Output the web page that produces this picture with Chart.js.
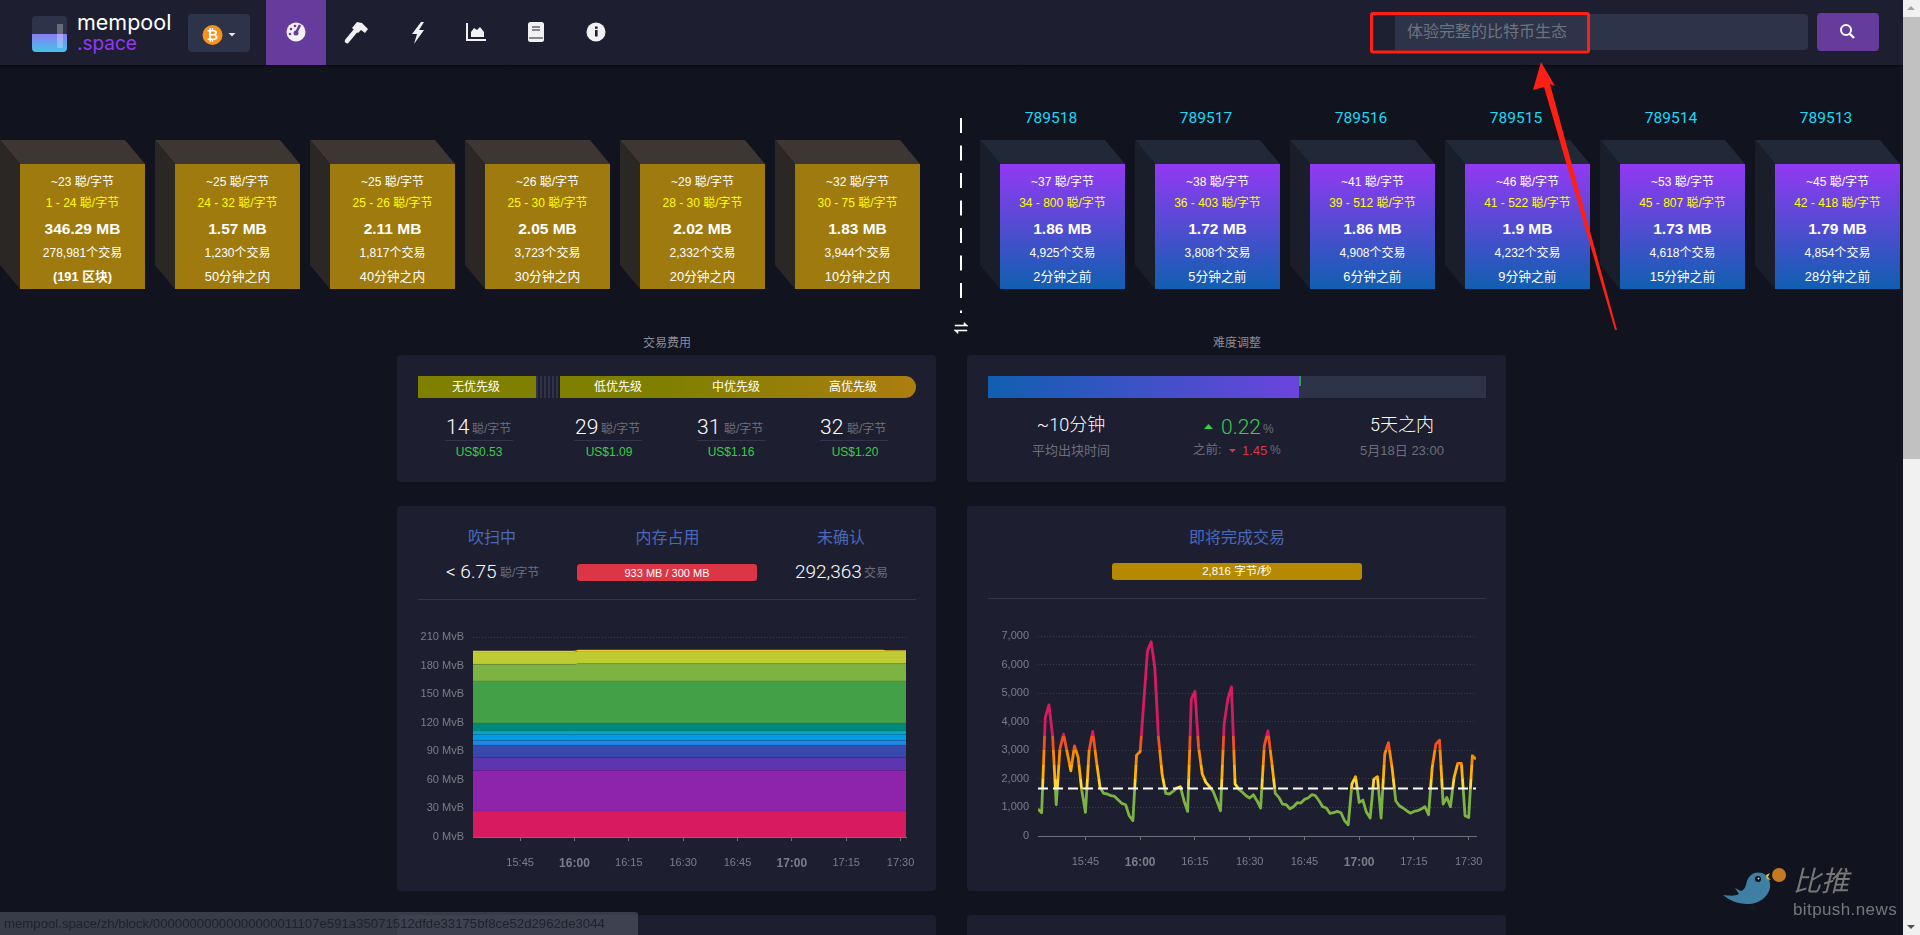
<!DOCTYPE html>
<html>
<head>
<meta charset="utf-8">
<title>mempool</title>
<script src="https://cdn.jsdelivr.net/npm/chart.js@4"></script>
<style>
html, body { margin: 0; width: 1920px; height: 935px; overflow: hidden; background: #11131f; }
body { position: relative; font-family: "Liberation Sans", "Noto Sans CJK SC", sans-serif; }
.box { position: absolute; }
.txt { position: absolute; white-space: nowrap; line-height: 1; }
canvas { position: absolute; }
</style>
</head>
<body>
<script>
// chart values
var memTimes = [932, 960, 961, 990, 1020, 1045, 1046, 1051.5];
var memColors = ['#d81b60', '#8e24aa', '#5e35b1', '#3949ab', '#1e88e5', '#039be5', '#00acc1', '#00897b', '#43a047', '#7cb342', '#c0ca33', '#fdd835'];
var band1 = [27.3, 27.3, 27.3, 27.3, 27.3, 27.3, 27.3, 27.3];
var band2 = [42.7, 42.7, 42.7, 42.7, 42.7, 42.7, 42.7, 42.7];
var band3 = [13.7, 13.7, 13.7, 13.7, 13.7, 13.7, 13.7, 13.7];
var band4 = [12.9, 12.9, 12.9, 12.9, 12.9, 12.9, 12.9, 12.9];
var band5 = [4.9, 4.9, 4.9, 4.9, 4.9, 4.9, 4.9, 4.9];
var band6 = [6.3, 6.3, 6.3, 6.3, 6.3, 6.3, 6.3, 6.3];
var band7 = [3.5, 3.5, 3.5, 3.5, 3.5, 3.5, 3.5, 3.5];
var band8 = [8.4, 8.4, 8.4, 8.4, 8.4, 8.4, 8.4, 8.4];
var band9 = [44.1, 44.1, 44.1, 44.1, 44.1, 44.1, 44.1, 44.1];
var band10 = [17.5, 17.5, 18.2, 18.2, 18.2, 18.2, 18.2, 18.2];
var band11 = [12.95, 12.95, 13.3, 13.3, 13.3, 13.3, 13.3, 13.3];
var band12 = [1.35, 1.35, 1.4, 1.4, 1.4, 1.4, 0.9, 0.9];
var memBands = [band1, band2, band3, band4, band5, band6, band7, band8, band9, band10, band11, band12];

var feeStart = 932;
var feeValues = [944, 815, 4150, 4590, 3500, 1095, 3040, 3565, 2920, 2283,
  3157, 2750, 1584, 830, 2980, 3660, 2630, 1700, 1490, 1470,
  1410, 1386, 1258, 1140, 1095, 710, 535, 2830, 2960, 4730,
  6480, 6800, 5900, 3450, 2170, 1490, 1470, 1560, 1680, 1725,
  1235, 860, 4790, 5060, 3100, 2170, 1875, 1725, 1560, 1235,
  885, 3915, 4790, 5220, 1820, 1640, 1530, 1410, 1330, 1445,
  1235, 980, 3157, 3680, 2630, 1490, 1350, 1118, 1095, 955,
  1025, 1165, 1153, 1280, 1330, 1445, 1410, 1235, 1025, 980,
  790, 815, 860, 815, 535, 395, 1820, 2075, 1175, 1258,
  830, 630, 1990, 2075, 630, 2870, 3270, 2400, 1235, 1060,
  980, 885, 800, 860, 885, 944, 1025, 745, 2400, 3215,
  3355, 1118, 1350, 1025, 2050, 2540, 2540, 710, 650, 2810, 2690];
var feeLimit = 1660;
var feeStops = [[0, '#7cb342'], [1660, '#fdd835'], [2000, '#ffb300'], [2500, '#fb8c00'], [3000, '#f4511e'], [3500, '#d81b60']];

var tickMinutes = [945, 960, 975, 990, 1005, 1020, 1035, 1050];
var tickLabels = ['15:45', '16:00', '16:15', '16:30', '16:45', '17:00', '17:15', '17:30'];
var boldTicks = [960, 1020];

// blocks
var pendFee = ['~23', '~25', '~25', '~26', '~29', '~32'];
var pendRange = ['1 - 24', '24 - 32', '25 - 26', '25 - 30', '28 - 30', '30 - 75'];
var pendSize = ['346.29 MB', '1.57 MB', '2.11 MB', '2.05 MB', '2.02 MB', '1.83 MB'];
var pendTx = ['278,981', '1,230', '1,817', '3,723', '2,332', '3,944'];
var pendTime = ['(191 区块)', '50分钟之内', '40分钟之内', '30分钟之内', '20分钟之内', '10分钟之内'];
var minedHeight = ['789518', '789517', '789516', '789515', '789514', '789513'];
var minedFee = ['~37', '~38', '~41', '~46', '~53', '~45'];
var minedRange = ['34 - 800', '36 - 403', '39 - 512', '41 - 522', '45 - 807', '42 - 418'];
var minedSize = ['1.86 MB', '1.72 MB', '1.86 MB', '1.9 MB', '1.73 MB', '1.79 MB'];
var minedTx = ['4,925', '3,808', '4,908', '4,232', '4,618', '4,854'];
var minedTime = ['2分钟之前', '5分钟之前', '6分钟之前', '9分钟之前', '15分钟之前', '28分钟之前'];

var thin = 'font-family:Roboto,\'Noto Sans CJK SC\';font-weight:300;';

function box(x, y, w, h, bg, extra) {
  var d = document.createElement('div');
  d.className = 'box';
  d.style.cssText = 'left:' + x + 'px;top:' + y + 'px;width:' + w + 'px;height:' + h + 'px;background:' + bg + ';' + (extra || '');
  document.body.appendChild(d);
  return d;
}

// anchor: c = centred on x, l = starts at x
function put(x, y, text, size, color, anchor, extra) {
  var s = document.createElement('span');
  s.className = 'txt';
  s.textContent = text;
  var tf = anchor === 'l' ? 'translateY(-50%)' : 'translate(-50%,-50%)';
  s.style.cssText = 'left:' + x + 'px;top:' + y + 'px;font-size:' + size + 'px;color:' + color + ';transform:' + tf + ';' + (extra || '');
  document.body.appendChild(s);
}

function svg(html) {
  var holder = document.createElement('div');
  holder.innerHTML = '<svg xmlns="http://www.w3.org/2000/svg" width="1920" height="935" style="position:absolute;left:0;top:0;pointer-events:none">' + html + '</svg>';
  document.body.appendChild(holder);
}

// header
box(0, 0, 1903, 65, '#1d1f31');
box(0, 65, 1903, 3, 'linear-gradient(#090a12,#11131f)');
box(32, 16, 35, 36, 'linear-gradient(#2d3348 0 50%,#8a7cf5 50%,#42c4e8 100%)', 'border-radius:4px');
box(57, 24, 6, 24, 'rgba(255,255,255,.28)');
put(77, 23, 'mempool', 21.5, '#fff', 'l', 'font-family:Inter');
put(77, 43, '.space', 19, '#9339f4', 'l', 'font-family:Inter');
box(188, 14, 62, 38, '#2d3348', 'border-radius:4px');
box(266, 0, 60, 65, '#653b9c');
box(1372, 14, 24, 36, '#1d2031');
box(1395, 14, 413, 36, '#2d3348', 'border-radius:0 4px 4px 0');
put(1407, 32, '体验完整的比特币生态', 16, '#6c757d', 'l');
box(1817, 13, 62, 38, '#653b9c', 'border-radius:4px');

// block row
pendFee.forEach(function (fee, i) {
  drawBlock(20 + 155 * i, '#9f7a0e', '#3d3632', '#2b2724', fee, pendRange[i], pendSize[i], pendTx[i], pendTime[i], i === 0);
});
minedFee.forEach(function (fee, i) {
  var x = 1000 + 155 * i;
  drawBlock(x, 'linear-gradient(#9339f4,#105fb0)', '#212838', '#1a1e2b', fee, minedRange[i], minedSize[i], minedTx[i], minedTime[i], false);
  put(x + 51, 118.5, minedHeight[i], 15.5, '#1bd8f4', 'c', 'font-family:Roboto');
});

function drawBlock(x, face, top, side, fee, range, size, tx, time, boldTime) {
  svg('<polygon points="' + (x - 20) + ',140 ' + (x + 105) + ',140 ' + (x + 125) + ',164 ' + x + ',164" fill="' + top + '"/>' +
    '<polygon points="' + (x - 20) + ',140 ' + x + ',164 ' + x + ',289 ' + (x - 20) + ',265" fill="' + side + '"/>');
  box(x, 164, 125, 125, face);
  var cx = x + 62.5;
  put(cx, 182, fee + ' 聪/字节', 12, '#fff', 'c');
  put(cx, 203, range + ' 聪/字节', 12, '#ff0', 'c');
  put(cx, 229, size, 15.5, '#fff', 'c', 'font-weight:bold');
  put(cx, 253, tx + '个交易', 12, '#fff', 'c');
  put(cx, 277, time, 12.8, '#fff', 'c', boldTime ? 'font-weight:bold' : '');
}

// divider between pending and mined
svg('<line x1="961" y1="118" x2="961" y2="313" stroke="#fff" stroke-width="2" stroke-dasharray="15 12.5"/>' +
  '<path d="M955 325h9v-2.5l4 3.5h-13zM967 331h-9v2.5l-4-3.5h13z" fill="#fff" stroke="#fff" stroke-width=".6"/>');

// panels
put(667, 343, '交易费用', 12, '#8a8c96', 'c');
put(1237, 343, '难度调整', 12, '#8a8c96', 'c');
box(397, 355, 539, 127, '#1d1f31', 'border-radius:4px');
box(967, 355, 539, 127, '#1d1f31', 'border-radius:4px');
box(397, 506, 539, 385, '#1d1f31', 'border-radius:4px');
box(967, 506, 539, 385, '#1d1f31', 'border-radius:4px');
box(397, 915, 539, 20, '#1d1f31', 'border-radius:4px 4px 0 0');
box(967, 915, 539, 20, '#1d1f31', 'border-radius:4px 4px 0 0');

// fee panel
box(418, 376, 118, 22, '#808000');
box(536, 376, 24, 22, 'repeating-linear-gradient(90deg,#2d3348 0 2px,#1d1f31 2px 4px)');
box(560, 376, 356, 22, 'linear-gradient(90deg,#808000 0,#808000 30%,#ac7e10 100%)', 'border-radius:0 11px 11px 0');
[[476, '无优先级'], [618, '低优先级'], [736, '中优先级'], [853, '高优先级']].forEach(function (l) {
  put(l[0], 387, l[1], 12, '#fff', 'c');
});
[[446, 472, 445, 479, '14', 'US$0.53'], [575, 601, 574, 609, '29', 'US$1.09'], [697, 724, 697, 731, '31', 'US$1.16'], [820, 847, 820, 855, '32', 'US$1.20']].forEach(function (f) {
  put(f[0], 427, f[4], 21, '#fff', 'l', thin);
  put(f[1], 429, '聪/字节', 12, '#6c6e7a', 'l');
  box(f[2], 440, 68, 1, '#33364a');
  put(f[3], 452, f[5], 12, '#3bcc49', 'c');
});

// difficulty panel
box(988, 376, 498, 22, '#2d3348');
box(988, 376, 311, 22, 'linear-gradient(90deg,#105fb0,#6b44dd)');
box(1299, 376, 2, 10, '#28a745');
put(1071, 425, '~10分钟', 18, '#fff', 'c', thin);
put(1071, 450, '平均出块时间', 13, '#6c6e7a', 'c');
put(1221, 427, '0.22', 21, '#3bcc49', 'l', thin);
put(1263, 429, '%', 12, '#6c6e7a', 'l');
put(1193, 450, '之前:', 12.5, '#6c6e7a', 'l');
put(1242, 450, '1.45', 13, '#dc3545', 'l');
put(1270, 450, '%', 12, '#6c6e7a', 'l');
put(1402, 425, '5天之内', 18, '#fff', 'c', thin);
put(1402, 450, '5月18日 23:00', 13, '#6c6e7a', 'c');
svg('<path d="M1204 429l4.500-5 4.500 5z" fill="#3bcc49"/><path d="M1229 449h7l-3.500 3.500z" fill="#dc3545"/>');

// memory panel head
put(492, 538, '吹扫中', 16, '#4a68b9', 'c');
put(667.5, 538, '内存占用', 16, '#4a68b9', 'c');
put(841, 538, '未确认', 16, '#4a68b9', 'c');
put(446, 571, '< 6.75', 19, '#fff', 'l', thin);
put(500, 573, '聪/字节', 12, '#6c6e7a', 'l');
box(577, 564, 180, 17, '#dc3545', 'border-radius:3px');
put(667, 572.5, '933 MB / 300 MB', 11, '#fff', 'c');
put(795, 571, '292,363', 19, '#fff', 'l', thin);
put(864, 573, '交易', 12, '#6c6e7a', 'l');
box(418, 599, 498, 1, '#33364a');

// fee rate panel head
put(1237, 538, '即将完成交易', 16, '#4a68b9', 'c');
box(1112, 563, 250, 17, '#b58900', 'border-radius:3px');
put(1237, 571.500, '2,816 字节/秒', 11.5, '#fff', 'c');
box(988, 598, 498, 1, '#33364a');

// charts
var axisGray = '#6e7079';
var labelGray = '#7b7d88';

function xAxis(max, height) {
  return {
    type: 'linear', min: 932, max: max,
    afterFit: function (s) { s.height = height; },
    afterBuildTicks: function (s) { s.ticks = tickMinutes.map(function (v) { return { value: v }; }); },
    border: { color: axisGray },
    grid: { drawOnChartArea: false, tickLength: 4, tickColor: axisGray },
    ticks: {
      autoSkip: false, maxRotation: 0, padding: 15, color: labelGray,
      font: function (c) {
        var bold = boldTicks.indexOf(c.tick && c.tick.value) >= 0;
        return { size: bold ? 12 : 11, weight: bold ? 'bold' : 'normal' };
      },
      callback: function (v) { return tickLabels[tickMinutes.indexOf(v)]; }
    }
  };
}

function yAxis(max, step, width, fmt) {
  return {
    min: 0, max: max, stacked: true,
    afterFit: function (s) { s.width = width; },
    border: { display: false, dash: [1, 2] },
    grid: { color: 'rgba(255,255,255,.14)', tickLength: 0, drawTicks: false },
    ticks: { stepSize: step, padding: 9, color: labelGray, font: { size: 11 }, callback: fmt }
  };
}

function addCanvas(x, y, w, h) {
  var c = document.createElement('canvas');
  c.width = w;
  c.height = h;
  c.style.cssText = 'left:' + x + 'px;top:' + y + 'px;width:' + w + 'px;height:' + h + 'px';
  document.body.appendChild(c);
  return c.getContext('2d');
}

Chart.defaults.font.family = '"Liberation Sans", "Noto Sans CJK SC", sans-serif';

new Chart(addCanvas(397, 601, 539, 285), {
  type: 'line',
  data: {
    datasets: memBands.map(function (band, i) {
      return {
        data: band.map(function (v, k) { return { x: memTimes[k], y: v }; }),
        backgroundColor: memColors[i],
        borderColor: 'rgba(0,0,0,.1)',
        borderWidth: 1,
        pointRadius: 0,
        fill: i === 0 ? 'origin' : '-1'
      };
    })
  },
  options: {
    responsive: false, animation: false, devicePixelRatio: 1,
    layout: { padding: { top: 36, right: 30, left: 0, bottom: 0 } },
    plugins: { legend: { display: false }, tooltip: { enabled: false } },
    scales: {
      x: xAxis(1051.5, 49),
      y: yAxis(210, 30, 76, function (v) { return v + ' MvB'; })
    }
  }
});

function feeGradient(c) {
  var chart = c.chart;
  if (!chart.chartArea) return feeStops[0][1];
  var y = chart.scales.y;
  var g = chart.ctx.createLinearGradient(0, y.getPixelForValue(0), 0, y.getPixelForValue(7000));
  feeStops.forEach(function (s, i) {
    var from = s[0] / 7000;
    var to = i + 1 < feeStops.length ? feeStops[i + 1][0] / 7000 : 1;
    g.addColorStop(from, s[1]);
    g.addColorStop(to, s[1]);
  });
  return g;
}

new Chart(addCanvas(967, 601, 539, 285), {
  type: 'line',
  data: {
    datasets: [{
      data: feeValues.map(function (v, i) { return { x: feeStart + i, y: v }; }),
      borderColor: feeGradient,
      borderWidth: 2.8,
      borderJoinStyle: 'round',
      pointRadius: 0,
      order: 2
    }, {
      data: [{ x: feeStart, y: feeLimit }, { x: feeStart + 120, y: feeLimit }],
      borderColor: '#fff',
      borderWidth: 2,
      borderDash: [10, 5],
      pointRadius: 0,
      order: 1
    }]
  },
  options: {
    responsive: false, animation: false, devicePixelRatio: 1,
    layout: { padding: { top: 35, right: 30, left: 0, bottom: 0 } },
    plugins: { legend: { display: false }, tooltip: { enabled: false } },
    scales: {
      x: xAxis(1052, 50),
      y: Object.assign(yAxis(7000, 1000, 71, function (v) { return v.toLocaleString('en-US'); }), { stacked: false })
    }
  }
});

// nav icons and overlays
svg(
  // bitcoin selector
  '<circle cx="212.500" cy="35" r="10" fill="#f7931a"/>' +
  '<text x="212.500" y="40" text-anchor="middle" font-size="14" font-weight="bold" fill="#fff" font-family="Liberation Sans">₿</text>' +
  '<path d="M228.500 33h7l-3.500 3.500z" fill="#e8e8ea"/>' +
  // gauge
  '<circle cx="296" cy="32" r="9.500" fill="#f1f1f3"/><path d="M296 33l4-8" stroke="#653b9c" stroke-width="2.500"/><circle cx="296" cy="33" r="2.500" fill="#653b9c"/><circle cx="291" cy="29" r="1.300" fill="#653b9c"/><circle cx="295" cy="26" r="1.300" fill="#653b9c"/><circle cx="290" cy="34" r="1.300" fill="#653b9c"/>' +
  // hammer
  '<path d="M347 41l10-12" stroke="#f1f1f3" stroke-width="4.500" stroke-linecap="round"/><path d="M352 28l5-6 5 1 6 6-3 4-4-3-3 3z" fill="#f1f1f3"/>' +
  // bolt
  '<path d="M421 22l-9 12h5l-3 10 10-14h-5l5-8z" fill="#f1f1f3"/>' +
  // chart area
  '<path d="M467 23v17h19" stroke="#f1f1f3" stroke-width="2" fill="none"/><path d="M471 37v-5l3-4 3 2 3-3 4 5v5z" fill="#f1f1f3"/>' +
  // book
  '<rect x="528" y="22" width="16" height="20" rx="2.500" fill="#f1f1f3"/><path d="M532 27h8M532 30h8" stroke="#1d1f31" stroke-width="1.200"/><path d="M529 38h14" stroke="#1d1f31" stroke-width="1"/>' +
  // info
  '<circle cx="596" cy="32" r="9.500" fill="#f1f1f3"/><rect x="595" y="30" width="2.600" height="6.500" fill="#1d1f31"/><rect x="595" y="26.500" width="2.600" height="2.300" fill="#1d1f31"/>' +
  // search
  '<circle cx="1846" cy="30" r="5" fill="none" stroke="#fff" stroke-width="2"/><path d="M1850 34l4 4" stroke="#fff" stroke-width="2.400"/>' +
  // red annotation
  '<rect x="1371.500" y="13.500" width="217" height="38.500" rx="1.500" fill="none" stroke="#ff2015" stroke-width="3"/>' +
  '<polygon points="1541,62 1555,86 1550,84 1617,330 1615,330 1544,87 1533,90" fill="#ff2015"/>' +
  // watermark bird
  '<path d="M1723 895c8 1 12 1 16-1l-4-6 6 3c4-1 5-6 6-10 2-7 9-10 15-8 6 2 9 8 8 15-2 9-11 16-22 16-11 0-19-4-25-9z" fill="#3f7fa3"/>' +
  '<circle cx="1758" cy="879" r="3" fill="#0c0d12"/><circle cx="1758.500" cy="878.500" r="1" fill="#ddd"/>' +
  '<path d="M1766 875l4-2-2 4 3 3-4-1z" fill="#e6c32e"/>' +
  '<circle cx="1779" cy="875" r="7" fill="#c57a22"/>' +
  '<path d="M1752 905l1 3-4 1M1752 908l4 1" stroke="#222" stroke-width=".8" fill="none"/>'
);
put(1793, 879, '比推', 28, '#777', 'l', 'font-style:italic;font-family:\'Noto Sans CJK SC\'');
put(1793, 909, 'bitpush.news', 17, '#777', 'l', 'font-family:\'Liberation Sans\';letter-spacing:.4px');

// status bubble
box(0, 912, 638, 23, 'rgba(90,92,105,.55)', 'border-radius:0 3px 0 0');
put(4, 924, 'mempool.space/zh/block/00000000000000000011107e591a35071512dfde33175bf8ce52d2962de3044', 13.2, '#1f212d', 'l');

// scrollbar
box(1903, 0, 17, 935, '#f1f1f1');
box(1903, 17, 17, 442, '#c1c1c1');
svg('<path d="M1907 10l4-4 4 4z" fill="#a3a3a3"/><path d="M1907 925l4 4 4-4z" fill="#505050"/>');
</script>
</body>
</html>
